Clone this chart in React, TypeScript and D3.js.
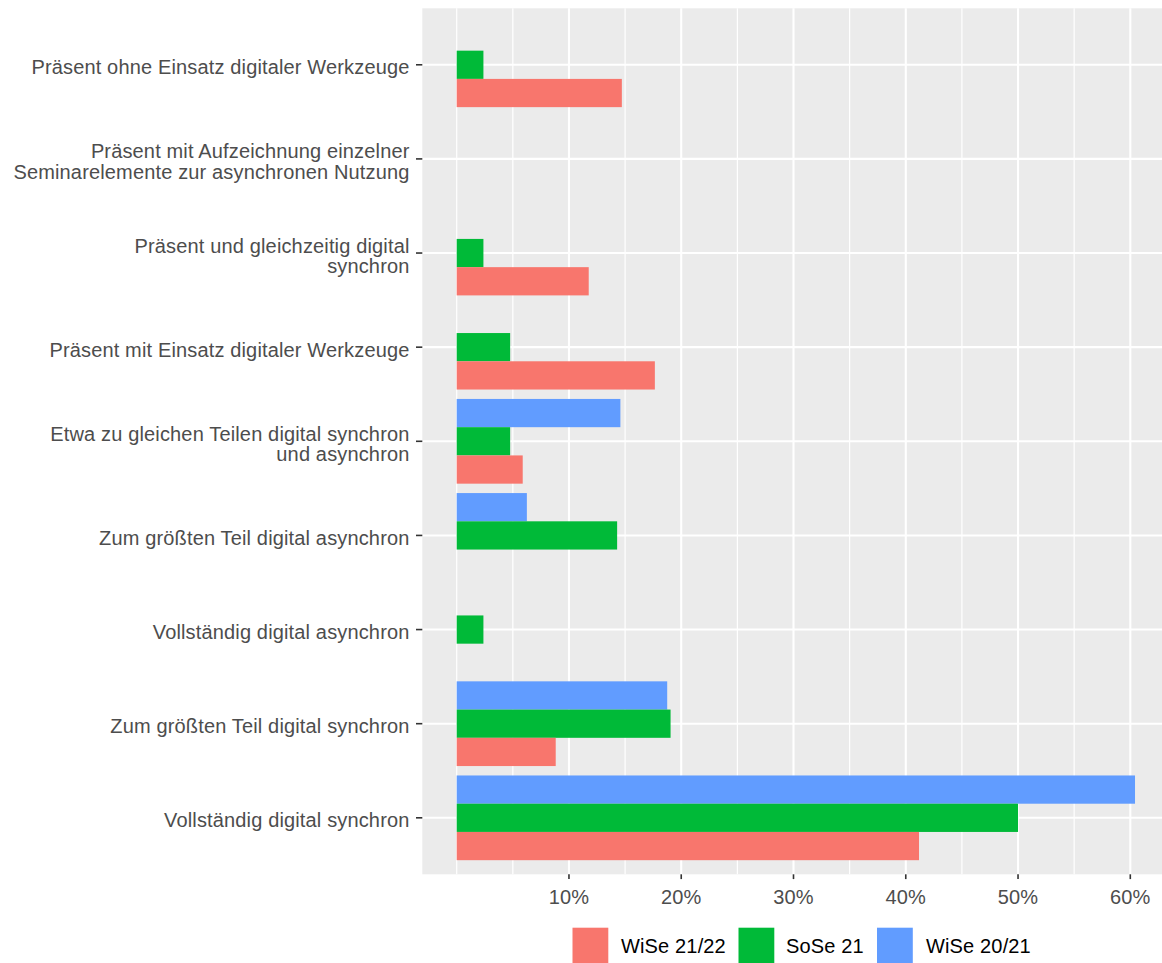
import React from "react";
import * as d3 from "d3";

const categories: string[] = [
  "Präsent ohne Einsatz digitaler Werkzeuge",
  "Präsent mit Aufzeichnung einzelner\nSeminarelemente zur asynchronen Nutzung",
  "Präsent und gleichzeitig digital\nsynchron",
  "Präsent mit Einsatz digitaler Werkzeuge",
  "Etwa zu gleichen Teilen digital synchron\nund asynchron",
  "Zum größten Teil digital asynchron",
  "Vollständig digital asynchron",
  "Zum größten Teil digital synchron",
  "Vollständig digital synchron",
];

const seriesNames: string[] = ["WiSe 20/21", "SoSe 21", "WiSe 21/22"];
const seriesColors: string[] = ["#619CFF", "#00BA38", "#F8766D"];

const wise2021: number[] = [0, 0, 0, 0, 14.58, 6.25, 0, 18.75, 60.42];
const sose21: number[] = [2.38, 0, 2.38, 4.76, 4.76, 14.29, 2.38, 19.05, 50.0];
const wise2122: number[] = [14.71, 0, 11.76, 17.65, 5.88, 0, 0, 8.82, 41.18];

const xTicks: number[] = [10, 20, 30, 40, 50, 60];
const xMinor: number[] = [0, 5, 15, 25, 35, 45, 55, 65];

const legendOrder: number[] = [2, 1, 0];

const W = 1162;
const H = 963;
const panel = { left: 422.3, right: 1168, top: 8.3, bottom: 874.3 };
const FONT = "'Liberation Sans', Arial, sans-serif";
const FS = 20;
const LS = 0.15;

export default function App() {
  const values = [wise2021, sose21, wise2122];
  const x = d3.scaleLinear().domain([0, 60]).range([456.7, 1130.3]);
  const n = categories.length;
  // ggplot discrete expansion: 0.6 units each side
  const y = d3
    .scalePoint<string>()
    .domain(categories)
    .range([panel.top, panel.bottom])
    .padding(0.6);
  const step = y.step();
  const cy = (i: number) => y(categories[i]) as number;
  const groupW = 0.9 * step;
  const barH = groupW / 3;
  void n;

  const legendKeys = [
    { kx: 572.5, tx: 621 },
    { kx: 738.5, tx: 786 },
    { kx: 877, tx: 926 },
  ];

  return (
    <svg
      width={W}
      height={H}
      style={{ position: "absolute", left: 0, top: 0, display: "block" }}
      fontFamily={FONT}
    >
      <rect x={0} y={0} width={W} height={H} fill="#FFFFFF" />
      <rect
        x={panel.left}
        y={panel.top}
        width={panel.right - panel.left}
        height={panel.bottom - panel.top}
        fill="#EBEBEB"
      />
      {xMinor.map((v) => (
        <line
          key={"mn" + v}
          x1={x(v)}
          x2={x(v)}
          y1={panel.top}
          y2={panel.bottom}
          stroke="#FFFFFF"
          strokeWidth={1.2}
        />
      ))}
      {xTicks.map((v) => (
        <line
          key={"mj" + v}
          x1={x(v)}
          x2={x(v)}
          y1={panel.top}
          y2={panel.bottom}
          stroke="#FFFFFF"
          strokeWidth={2.1}
        />
      ))}
      {categories.map((c, i) => (
        <line
          key={"hg" + i}
          x1={panel.left}
          x2={panel.right}
          y1={cy(i)}
          y2={cy(i)}
          stroke="#FFFFFF"
          strokeWidth={2.1}
        />
      ))}
      {values.map((vals, s) =>
        vals.map((v, i) =>
          v > 0 ? (
            <rect
              key={"b" + s + "-" + i}
              x={x(0)}
              y={cy(i) - groupW / 2 + s * barH}
              width={x(v) - x(0)}
              height={barH}
              fill={seriesColors[s]}
            />
          ) : null
        )
      )}
      {categories.map((c, i) => {
        const lines = c.split("\n");
        return (
          <g key={"yl" + i}>
            <line
              x1={416}
              x2={panel.left}
              y1={cy(i)}
              y2={cy(i)}
              stroke="#333333"
              strokeWidth={1.6}
            />
            {lines.map((ln, k) => (
              <text
                key={k}
                x={409.5}
                y={lines.length === 1 ? cy(i) + 2.5 : cy(i) - 7.5 + k * 20.5}
                textAnchor="end"
                dominantBaseline="central"
                fontSize={FS}
                letterSpacing={LS}
                fill="#4D4D4D"
              >
                {ln}
              </text>
            ))}
          </g>
        );
      })}
      {xTicks.map((v) => (
        <g key={"xt" + v}>
          <line
            x1={x(v)}
            x2={x(v)}
            y1={panel.bottom}
            y2={panel.bottom + 4.8}
            stroke="#333333"
            strokeWidth={1.6}
          />
          <text
            x={x(v)}
            y={897}
            textAnchor="middle"
            dominantBaseline="central"
            fontSize={FS}
            letterSpacing={LS}
            fill="#4D4D4D"
          >
            {v + "%"}
          </text>
        </g>
      ))}
      {legendOrder.map((s, k) => (
        <g key={"lg" + s}>
          <rect
            x={legendKeys[k].kx}
            y={927.7}
            width={35.8}
            height={35.8}
            fill={seriesColors[s]}
          />
          <text
            x={legendKeys[k].tx}
            y={946}
            dominantBaseline="central"
            fontSize={FS}
            letterSpacing={LS}
            fill="#000000"
          >
            {seriesNames[s]}
          </text>
        </g>
      ))}
    </svg>
  );
}
